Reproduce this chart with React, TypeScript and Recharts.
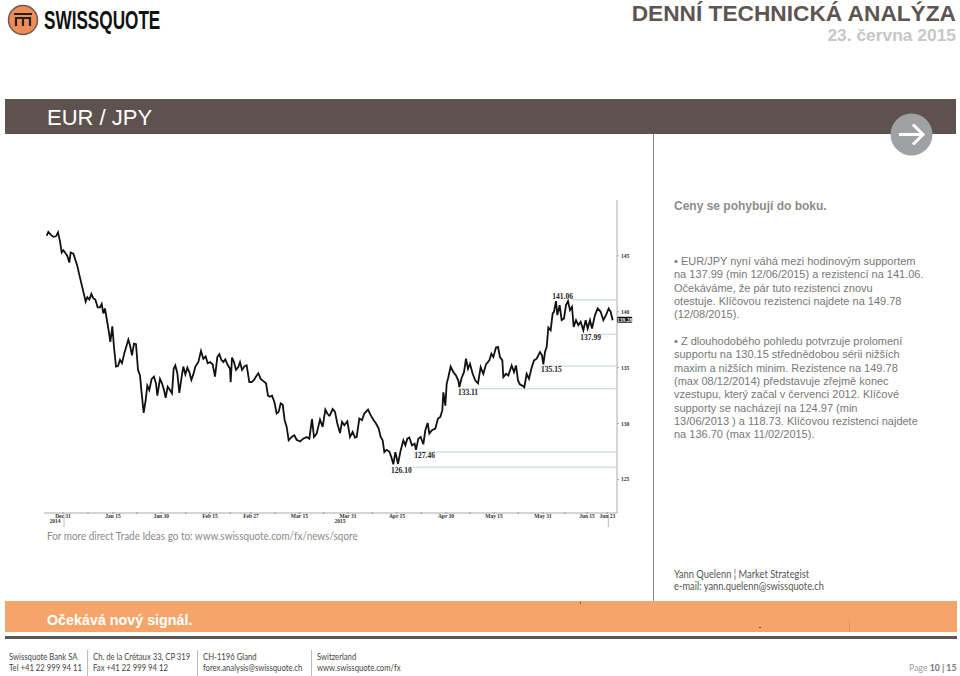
import React from 'react';
import { LineChart, Line, XAxis, YAxis, ReferenceLine, ReferenceDot } from 'recharts';

const bars = [
  50, 55, 62, 70, 78, 84, 90, 95, 100, 106, 112, 118, 122, 130, 136, 142, 148, 154, 160, 167, 172, 178, 184, 190, 196, 203, 210, 215, 220, 225, 230, 235, 241, 247, 252, 258, 264, 270, 276, 283, 290, 295, 300, 306, 312, 318, 324, 330, 335, 341, 347, 352, 358, 365, 372, 378, 382, 390, 396, 402, 407, 413, 420, 426, 431, 436, 442, 448, 455, 460, 466, 472, 478, 484, 490, 496, 505, 513, 520, 527, 533, 540, 548, 555, 562, 568, 574, 580, 586, 592, 600, 602, 606, 612, 618, 625, 630, 636, 643, 650, 658, 665, 672, 680, 685, 692, 700, 708, 714, 720, 726, 733, 740, 746, 752, 758, 764, 770, 776, 785, 793, 800, 810, 820, 830, 838, 846, 852, 860, 870, 878, 886, 892, 898,
  900, 908, 915, 922, 930, 936, 943, 952, 960, 968, 975, 980, 988, 996, 1003, 1014, 1022, 1030, 1038, 1046, 1052, 1058, 1063, 1070, 1078, 1084, 1090, 1096, 1104, 1112, 1120, 1126, 1132, 1138, 1146, 1154, 1158, 1165, 1172, 1180, 1186, 1193, 1198, 1206, 1216, 1224, 1231, 1237, 1240, 1246, 1250, 1255, 1262, 1270, 1278, 1285, 1288, 1295, 1302, 1308, 1314, 1320, 1328, 1336, 1344, 1352, 1360, 1368, 1378, 1384, 1390, 1398, 1404, 1410, 1417, 1420, 1428, 1435, 1445, 1452, 1458, 1464, 1470, 1477, 1483, 1490, 1497, 1504, 1512, 1520, 1530, 1536, 1540, 1545, 1550, 1555, 1562, 1568, 1572, 1578, 1582, 1589, 1595, 1602, 1608, 1614, 1620, 1626, 1631, 1638, 1645, 1652, 1660, 1667, 1673, 1680, 1686, 1695, 1703, 1712, 1720, 1728, 1736, 1742, 1748,
];

const prices = [
  146.8, 147.15, 146.9, 146.7, 146.75, 147.1, 146.3, 145.3, 145.5, 145.25, 145.0, 144.4, 145.3, 145.2, 144.65, 144.1, 143.3, 142.55, 141.8, 140.9, 141.3, 141.1, 141.6, 141.2, 141.1, 140.4, 140.4, 140.7, 139.85, 140.3, 139.4, 138.5, 137.3, 138.7, 136.85, 135.1, 135.15, 135.7, 135.4, 136.3, 137.0, 137.5, 137.0, 136.1, 137.15, 137.1, 134.8, 134.3, 132.7, 130.95, 132.1, 133.4, 133.0, 134.0, 134.2, 133.6, 132.5, 134.0, 133.6, 133.0, 132.3, 133.3, 133.0, 132.7, 134.9, 135.2, 134.5, 132.75, 134.2, 135.1, 134.4, 135.0, 134.6, 133.9, 134.4, 135.1, 135.5, 136.5, 135.8, 136.0, 135.4, 135.5, 135.3, 134.2, 135.95, 136.2, 135.7, 135.5, 135.75, 135.3, 134.9, 133.7, 135.9, 135.5, 134.8, 135.05, 135.5, 134.8, 135.1, 135.2, 133.7, 133.7, 133.9, 134.3, 134.5, 134.0, 133.8, 133.6, 132.5, 132.4, 132.5, 131.95, 130.9, 131.05, 131.8, 131.7, 130.3, 129.7, 128.5, 128.8, 128.95, 128.55, 128.4, 128.65, 128.8, 128.65, 130.4, 128.8, 129.1, 130.35, 129.7, 131.25, 130.9, 130.7,
  130.75, 131.3, 131.05, 130.0, 129.15, 130.15, 129.85, 130.2, 128.8, 129.25, 128.75, 128.8, 130.45, 130.3, 130.9, 131.25, 130.75, 130.35, 130.0, 129.55, 128.8, 128.5, 127.45, 127.65, 127.5, 127.0, 126.35, 127.45, 126.4, 127.6, 128.5, 128.05, 128.65, 128.75, 128.05, 128.2, 127.65, 128.65, 128.8, 128.15, 129.4, 130.05, 129.1, 129.4, 129.55, 130.45, 130.6, 131.2, 132.8, 131.6, 133.55, 134.15, 135.1, 134.6, 134.3, 133.85, 133.25, 134.1, 134.6, 135.8, 134.9, 135.35, 134.45, 133.85, 133.6, 135.05, 134.45, 135.3, 135.65, 136.25, 135.95, 136.8, 136.85, 135.95, 135.65, 134.15, 134.45, 134.3, 135.2, 134.6, 135.2, 133.85, 133.5, 133.4, 133.25, 134.45, 134.0, 134.9, 135.65, 135.8, 136.4, 136.1, 135.3, 136.4, 136.85, 138.6, 138.35, 139.85, 140.0, 140.95, 139.7, 140.6, 139.25, 139.4, 140.6, 140.95, 140.15, 140.45, 138.65, 139.25, 138.8, 139.1, 138.35, 139.25, 138.5, 139.25, 138.5, 139.7, 140.3, 140.0, 139.25, 139.7, 140.3, 140.0, 139.25,
];

const priceTicks = [125, 130, 135, 140, 145];
const dateTickBars = [99, 249, 394, 540, 663, 808, 954, 1101, 1248, 1392, 1539, 1671, 1732];
const dateTickLabels = ['Dec 31', 'Jan 15', 'Jan 30', 'Feb 15', 'Feb 27', 'Mar 15', 'Mar 31', 'Apr 15', 'Apr 30', 'May 15', 'May 31', 'Jun 15', 'Jun 23'];
const minorTickBars = [174, 321, 467, 601, 735, 881, 1027, 1174, 1320, 1465, 1605];

const levelValues = [141.06, 137.99, 135.15, 133.11, 127.46, 126.1];
const levelLabels = ['141.06', '137.99', '135.15', '133.11', '127.46', '126.10'];
const levelStarts = [1625, 1708, 1540, 1288, 1157, 1140];
const levelLabelBars = [1598, 1682, 1564, 1314, 1184, 1114];
const levelLabelBelow = [false, true, true, true, true, true];

const lastPrice = 139.28;
const lastBar = 1748;

const chartData = bars.map((bar, i) => ({ bar, price: prices[i] }));

const paragraphOne = [
  '• EUR/JPY nyní váhá mezi hodinovým supportem',
  'na 137.99 (min 12/06/2015) a rezistencí na 141.06.',
  'Očekáváme, že pár tuto rezistenci znovu',
  'otestuje. Klíčovou rezistenci najdete na 149.78',
  '(12/08/2015).',
];
const paragraphTwo = [
  '• Z dlouhodobého pohledu potvrzuje prolomení',
  'supportu na 130.15 střednědobou sérii nižších',
  'maxim a nižších minim. Rezistence na 149.78',
  '(max 08/12/2014) představuje zřejmě konec',
  'vzestupu, který začal v červenci 2012. Klíčové',
  'supporty se nacházejí na 124.97 (min',
  '13/06/2013 ) a 118.73. Klíčovou rezistenci najdete',
  'na 136.70 (max 11/02/2015).',
];
const footerColumns = [
  ['Swissquote Bank SA', 'Tel +41 22 999 94 11'],
  ['Ch. de la Crétaux 33, CP 319', 'Fax +41 22 999 94 12'],
  ['CH-1196 Gland', 'forex.analysis@swissquote.ch'],
  ['Switzerland', 'www.swissquote.com/fx'],
];
const footerLefts = [9, 93, 203, 317];

const sans = '"Liberation Sans", Arial, sans-serif';
const humanist = 'Lato, sans-serif';
const chartFont = '"Liberation Serif", serif';

function Txt({ x, y, size, color, bold, right, family, sx, children }: any) {
  const pos: React.CSSProperties = right !== undefined ? { right } : { left: x };
  return (
    <div style={{
      position: 'absolute', ...pos, top: y, transform: `translateY(-50%) scaleX(${sx || 1})`,
      transformOrigin: right !== undefined ? 'right center' : 'left center', fontSize: size, color,
      fontWeight: bold ? 700 : 400, fontFamily: family || sans, whiteSpace: 'nowrap', lineHeight: 1,
    }}>
      {children}
    </div>
  );
}

function Box({ x, y, w, h, color }: any) {
  return <div style={{ position: 'absolute', left: x, top: y, width: w, height: h, background: color }} />;
}

function DateTick({ x, y, payload }: any) {
  const i = dateTickBars.indexOf(payload.value);
  const mark = <line x1={x} x2={x} y1={y - 9} y2={y - 7} stroke="#999" />;
  if (i < 0) return mark;
  const edge = i === 0 || i === dateTickBars.length - 1;
  return (
    <g>
      {mark}
      {edge && <line x1={x + 1} x2={x + 1} y1={y - 7} y2={y + 6} stroke="#bbb" />}
      <text x={x} y={y - 3} textAnchor="middle" fontSize={5.5} fontWeight={700} fill="#333" fontFamily={chartFont}>
        {dateTickLabels[i]}
      </text>
      {i === 0 && <text x={x - 8} y={y + 2} textAnchor="middle" fontSize={5.5} fontWeight={700} fill="#333" fontFamily={chartFont}>2014</text>}
      {i === 6 && <text x={x - 8} y={y + 2} textAnchor="middle" fontSize={5.5} fontWeight={700} fill="#333" fontFamily={chartFont}>2015</text>}
    </g>
  );
}

function PriceTag({ cx, cy }: any) {
  return (
    <g>
      <rect x={cx + 4.5} y={cy - 3} width={15} height={6} rx={1} fill="#111" />
      <text x={cx + 12} y={cy + 2} textAnchor="middle" fontSize={5.5} fontWeight={700} fill="#fff" fontFamily={chartFont}>
        {lastPrice}
      </text>
    </g>
  );
}

function LevelText({ cx, cy, text }: any) {
  return (
    <text x={cx} y={cy} textAnchor="middle" fontSize={7.5} fontWeight={700} fill="#222" fontFamily={chartFont}>
      {text}
    </text>
  );
}

function PriceChart() {
  return (
    <div style={{ position: 'absolute', left: 0, top: 190 }}>
      <LineChart width={660} height={345} data={chartData} margin={{ top: 10, right: 0, bottom: 0, left: 44 }}>
        <XAxis
          dataKey="bar"
          type="number"
          domain={[42, 1761]}
          ticks={[...dateTickBars, ...minorTickBars].sort((a, b) => a - b)}
          interval={0}
          height={22}
          stroke="#aaa"
          tickLine={false}
          tick={<DateTick />}
        />
        <YAxis
          orientation="right"
          type="number"
          domain={[122, 150]}
          ticks={priceTicks}
          interval={0}
          width={43}
          stroke="#aaa"
          tickSize={2}
          tick={{ fontSize: 5.5, fontWeight: 700, fill: '#333', fontFamily: chartFont }}
        />
        {levelValues.map((value, i) => (
          <ReferenceLine
            key={value}
            segment={[{ x: levelStarts[i], y: value }, { x: 1758, y: value }]}
            stroke="#bcd6d0"
            strokeWidth={1}
          />
        ))}
        <Line type="linear" dataKey="price" stroke="#111" strokeWidth={1.8} dot={false} isAnimationActive={false} />
        {levelValues.map((value, i) => (
          <ReferenceDot
            key={levelLabels[i]}
            x={levelLabelBars[i]}
            y={levelLabelBelow[i] ? value - 0.55 : value + 0.05}
            ifOverflow="visible"
            shape={<LevelText text={levelLabels[i]} />}
          />
        ))}
        <ReferenceDot x={lastBar} y={lastPrice} ifOverflow="visible" shape={<PriceTag />} />
      </LineChart>
    </div>
  );
}

export default function App() {
  return (
    <div style={{ position: 'absolute', left: 0, top: 0, width: 960, height: 676, overflow: 'hidden', background: '#fff' }}>
      <svg style={{ position: 'absolute', left: 7, top: 4 }} width={32} height={32} viewBox="0 0 32 32">
        <circle cx={16} cy={16} r={14.5} fill="#f08c58" stroke="#6a5a52" strokeWidth={1.5} />
        <rect x={7} y={9} width={18} height={2} fill="#222" />
        <path d="M9 22 V14 H23 V22 M16 14 V22" fill="none" stroke="#222" strokeWidth={2.2} />
      </svg>
      <Txt x={44} y={20} size={26} color="#111" bold sx={0.66}>SWISSQUOTE</Txt>
      <Txt right={4} y={13} size={22.7} color="#5e5553" bold>DENNÍ TECHNICKÁ ANALÝZA</Txt>
      <Txt right={4} y={36} size={17.4} color="#c8c6c5" bold>23. června 2015</Txt>

      <Box x={5} y={99} w={951} h={35} color="#5e524f" />
      <Txt x={47} y={118} size={22} color="#fff">EUR / JPY</Txt>
      <Box x={653} y={134} w={1} h={467} color="#8a8a8a" />
      <svg style={{ position: 'absolute', left: 890, top: 113 }} width={43} height={43} viewBox="0 0 43 43">
        <circle cx={21.5} cy={21.5} r={21} fill="#a0a1a4" />
        <path d="M9 21.5 H33 M23 11.5 L33 21.5 L23 31.5" fill="none" stroke="#fff" strokeWidth={3} />
      </svg>
      <Txt x={674} y={206} size={12} color="#8c8c8c" bold>Ceny se pohybují do boku.</Txt>

      {paragraphOne.map((line, i) => (
        <Txt key={line} x={674} y={261 + i * 13.3} size={11} color="#777">{line}</Txt>
      ))}
      {paragraphTwo.map((line, i) => (
        <Txt key={line} x={674} y={341 + i * 13.3} size={11} color="#777">{line}</Txt>
      ))}

      <PriceChart />

      <Txt x={47} y={536} size={12} color="#8a8a8a" family={humanist} sx={0.827}>For more direct Trade Ideas go to: www.swissquote.com/fx/news/sqore</Txt>
      <Txt x={674} y={574} size={10.5} color="#555" family={humanist} sx={0.89}>Yann Quelenn ¦ Market Strategist</Txt>
      <Txt x={674} y={586} size={10.5} color="#555" family={humanist} sx={0.89}>e-mail: yann.quelenn@swissquote.ch</Txt>

      <Box x={5} y={601} w={952} h={31} color="#f6a56a" />
      <Box x={5} y={636} w={952} h={3} color="#5e5552" />
      <Txt x={47} y={620} size={14.3} color="#fff" bold>Očekává nový signál.</Txt>
      <Box x={580} y={602} w={1} h={2} color="#7a5a40" />
      <Box x={759} y={627} w={2} h={1} color="#7a3a20" />
      <Box x={849} y={621} w={1} h={11} color="#d89060" />

      {footerColumns.map((col, i) => (
        <React.Fragment key={col[0]}>
          <Txt x={footerLefts[i]} y={656} size={10} color="#444" family={humanist} sx={0.77}>{col[0]}</Txt>
          <Txt x={footerLefts[i]} y={667} size={10} color="#444" family={humanist} sx={0.77}>{col[1]}</Txt>
          {i > 0 && <Box x={footerLefts[i] - 6} y={650} w={1} h={26} color="#bbb" />}
        </React.Fragment>
      ))}
      <Txt right={4} y={667} size={10} color="#a0a0a0" family={humanist} sx={0.87}>
        Page <b style={{ color: '#777' }}>10 | 15</b>
      </Txt>
    </div>
  );
}
